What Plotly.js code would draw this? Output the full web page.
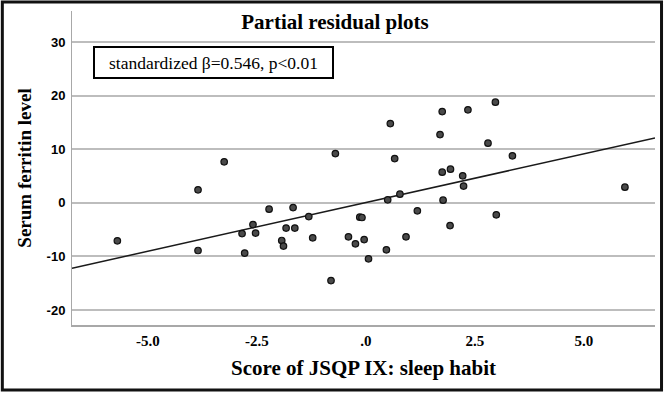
<!DOCTYPE html>
<html>
<head>
<meta charset="utf-8">
<script src="https://cdn.plot.ly/plotly-3.0.1.min.js"></script>
<style>
  html, body { margin: 0; padding: 0; background: #fff; }
  #chart { width: 666px; height: 394px; }
</style>
</head>
<body>
<div id="chart"></div>
<script>
// Partial residuals: score of JSQP IX (sleep habit) vs serum ferritin level
const sleepScore = [
  -5.70, -3.85, -3.85, -3.25, -2.84, -2.78, -2.59, -2.53, -2.22, -1.93,
  -1.89, -1.83, -1.67, -1.63, -1.31, -1.22, -0.80, -0.70, -0.40, -0.24,
  -0.14, -0.09, -0.04, 0.06, 0.47, 0.50, 0.56, 0.66, 0.78, 0.92,
  1.18, 1.70, 1.75, 1.75, 1.77, 1.93, 1.94, 2.22, 2.24, 2.34,
  2.80, 2.97, 2.99, 3.36, 5.94
];
const ferritinResidual = [
  -7.09, 2.43, -8.90, 7.65, -5.73, -9.38, -4.05, -5.65, -1.18, -7.03,
  -8.08, -4.72, -0.88, -4.72, -2.56, -6.53, -14.50, 9.20, -6.34, -7.65,
  -2.67, -2.74, -6.85, -10.45, -8.77, 0.56, 14.79, 8.26, 1.62, -6.34,
  -1.49, 12.74, 17.03, 5.73, 0.50, -4.24, 6.29, 5.04, 3.12, 17.35,
  11.14, 18.79, -2.24, 8.77, 2.93
];
// fitted partial regression line (end points across the axis)
const fitX = [-6.74, 6.63];
const fitY = [-12.2, 12.1];

const xTickVals = [-5, -2.5, 0, 2.5, 5];
const xTickText = ['-5.0', '-2.5', '.0', '2.5', '5.0'];
const yTickVals = [-20, -10, 0, 10, 20, 30];
const yTickText = ['-20', '-10', '0', '10', '20', '30'];

const titleText = 'Partial residual plots';
const xTitle = 'Score of JSQP IX: sleep habit';
const yTitle = 'Serum ferritin level';
const statText = 'standardized \u03b2=0.546, p<0.01';

const SERIF = '"Liberation Serif", "Times New Roman", serif';
const SANS = '"Liberation Sans", Arial, sans-serif';

const traces = [
  {
    x: fitX, y: fitY, type: 'scatter', mode: 'lines',
    line: { color: '#1a1a1a', width: 1.5 },
    hoverinfo: 'skip', showlegend: false
  },
  {
    x: sleepScore, y: ferritinResidual, type: 'scatter', mode: 'markers',
    marker: { size: 6.5, color: '#4a4a4a', line: { color: '#111', width: 1.2 } },
    showlegend: false
  }
];

const layout = {
  width: 666, height: 394,
  margin: { l: 72, r: 11, t: 11, b: 69 },
  paper_bgcolor: '#ffffff', plot_bgcolor: '#ffffff',
  showlegend: false,
  title: {
    text: titleText,
    font: { family: SERIF, size: 21, color: '#000', weight: 'bold' },
    x: 0.503, xref: 'container', xanchor: 'center',
    y: 0.945, yref: 'container', yanchor: 'middle'
  },
  xaxis: {
    range: [-6.74, 6.63],
    tickvals: xTickVals, ticktext: xTickText,
    tickfont: { family: SERIF, size: 15, color: '#000', weight: 'bold' },
    ticks: '', showgrid: false, zeroline: false,
    showline: true, linecolor: '#a8a8a8', linewidth: 2,
    ticklabelstandoff: 1,
    title: {
      text: xTitle, standoff: 12,
      font: { family: SERIF, size: 21, color: '#000', weight: 'bold' }
    },
    automargin: false, fixedrange: true
  },
  yaxis: {
    range: [-22.8, 35.8],
    tickvals: yTickVals, ticktext: yTickText,
    tickfont: { family: SANS, size: 13, color: '#000', weight: 'bold' },
    ticks: '', showgrid: true, gridcolor: '#bdbdbd', gridwidth: 2,
    zeroline: false,
    showline: true, linecolor: '#a8a8a8', linewidth: 1,
    ticklabelstandoff: 3,
    title: {
      text: yTitle, standoff: 9,
      font: { family: SERIF, size: 19, color: '#000', weight: 'bold' }
    },
    automargin: false, fixedrange: true
  },
  annotations: [
    {
      text: statText, xref: 'paper', yref: 'paper',
      x: 0.036, xanchor: 'left', y: 0.8885, yanchor: 'top',
      showarrow: false, align: 'center',
      width: 235, height: 27,
      font: { family: SERIF, size: 17.5, color: '#000' },
      bordercolor: '#000', borderwidth: 2, borderpad: 1,
      bgcolor: '#fff'
    }
  ],
  shapes: [
    {
      type: 'rect', xref: 'paper', yref: 'paper',
      x0: -0.1195, x1: 1.0112, y0: -0.207, y1: 1.0287,
      line: { color: '#111', width: 3 }, fillcolor: 'rgba(0,0,0,0)',
      layer: 'above'
    }
  ]
};

Plotly.newPlot('chart', traces, layout, { staticPlot: true, displayModeBar: false });
</script>
</body>
</html>
